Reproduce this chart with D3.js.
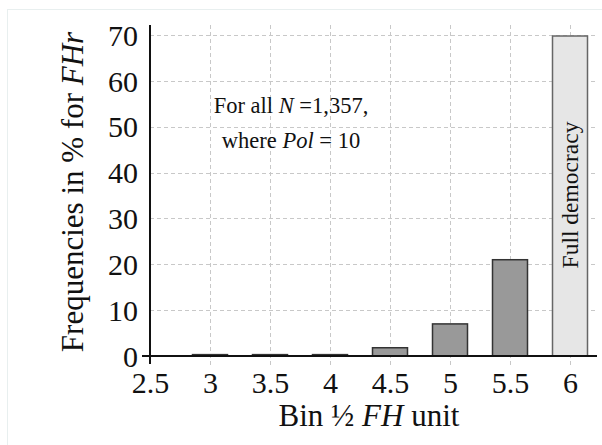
<!DOCTYPE html>
<html><head><meta charset="utf-8">
<script src="https://cdn.jsdelivr.net/npm/d3@7"></script>
<style>body{margin:0;background:#fff}svg{display:block}text{font-family:"Liberation Serif","Times New Roman",serif;fill:#111}</style>
</head><body>
<svg id="c" width="602" height="445"></svg>
<script>
const bins = [2.5, 3, 3.5, 4, 4.5, 5, 5.5, 6];
const freq = [0, 0.3, 0.3, 0.3, 1.8, 7.0, 21.0, 69.8];
const yTicks = [0, 10, 20, 30, 40, 50, 60, 70];
const xTickLabels = ["2.5", "3", "3.5", "4", "4.5", "5", "5.5", "6"];
const barLabels = ["", "", "", "", "", "", "", "Full democracy"];

(function () {
const svg = d3.select("#c");
const pL = 150, pR = 597, pT = 25, pB = 356;
const x = d3.scaleLinear().domain([2.5, 6.225]).range([pL, pR]);
const y = d3.scaleLinear().domain([0, 72.2]).range([pB, pT]);
const bw = 35;

// faint frame
svg.append("rect").attr("x", 7.5).attr("y", 9.5).attr("width", 620).attr("height", 460)
  .attr("fill", "none").attr("stroke", "#e8efef").attr("stroke-width", 1);

// grid
const g = svg.append("g");
g.selectAll("line.h").data(yTicks.slice(1)).join("line")
  .attr("x1", pL).attr("x2", pR).attr("y1", d => Math.round(y(d)) + 0.5).attr("y2", d => Math.round(y(d)) + 0.5)
  .attr("stroke", "#c8c8c8").attr("stroke-dasharray", "4,3");
g.selectAll("line.v").data(bins.slice(1)).join("line")
  .attr("x1", d => Math.round(x(d)) + 0.5).attr("x2", d => Math.round(x(d)) + 0.5)
  .attr("y1", pT).attr("y2", pB + 9)
  .attr("stroke", "#c8c8c8").attr("stroke-dasharray", "4,3");

// bars
svg.selectAll("rect.bar").data(bins.map((b, i) => ({b, v: freq[i], i}))).join("rect")
  .attr("class", "bar")
  .attr("x", d => x(d.b) - bw / 2).attr("width", bw)
  .attr("y", d => y(d.v)).attr("height", d => y(0) - y(d.v))
  .attr("fill", d => d.i === 7 ? "#e6e6e6" : "#999999")
  .attr("stroke", d => d.i === 7 ? "#666" : "#333")
  .attr("stroke-width", d => d.v > 0 ? 1.5 : 0);

// label inside last bar
svg.selectAll("text.bl").data(bins.map((b, i) => ({b, l: barLabels[i], v: freq[i]})).filter(d => d.l)).join("text")
  .attr("transform", d => `translate(${x(d.b) + 8},${y(0) - 161}) rotate(-90)`)
  .attr("text-anchor", "middle").attr("font-size", 23.5).text(d => d.l);

// axes
const xAxis = d3.axisBottom(x).tickValues(bins).tickFormat((d, i) => xTickLabels[i]).tickSize(0).tickPadding(16);
const xa = svg.append("g").attr("transform", `translate(0,${pB})`).call(xAxis);
xa.select(".domain").remove();
xa.selectAll("text").attr("font-size", 30).attr("font-family", "Liberation Serif").attr("fill", "#111");
svg.append("line").attr("x1", 142).attr("x2", pR).attr("y1", pB).attr("y2", pB).attr("stroke", "#111").attr("stroke-width", 2);

const yAxis = d3.axisLeft(y).tickValues(yTicks).tickSize(0).tickPadding(12);
const ya = svg.append("g").attr("transform", `translate(${pL},0)`).call(yAxis);
ya.select(".domain").remove();
ya.selectAll("text").attr("font-size", 30).attr("font-family", "Liberation Serif").attr("fill", "#111").attr("dy", "0.34em");
svg.append("line").attr("x1", pL).attr("x2", pL).attr("y1", pT).attr("y2", pB + 8).attr("stroke", "#111").attr("stroke-width", 2);

// axis titles
const yt = svg.append("text").attr("transform", `translate(83,192) rotate(-90)`).attr("text-anchor", "middle").attr("font-size", 31);
yt.append("tspan").text("Frequencies in % for ");
yt.append("tspan").attr("font-style", "italic").text("FHr");

const xt = svg.append("text").attr("x", 369).attr("y", 426).attr("text-anchor", "middle").attr("font-size", 31);
xt.append("tspan").text("Bin ½ ");
xt.append("tspan").attr("font-style", "italic").text("FH");
xt.append("tspan").text(" unit");

// annotation
const a1 = svg.append("text").attr("x", 291).attr("y", 113).attr("text-anchor", "middle").attr("font-size", 22.5);
a1.append("tspan").text("For all ");
a1.append("tspan").attr("font-style", "italic").text("N");
a1.append("tspan").text(" =1,357,");
const a2 = svg.append("text").attr("x", 291).attr("y", 148).attr("text-anchor", "middle").attr("font-size", 22.5);
a2.append("tspan").text("where ");
a2.append("tspan").attr("font-style", "italic").text("Pol");
a2.append("tspan").text(" = 10");
})();
</script>
</body></html>
